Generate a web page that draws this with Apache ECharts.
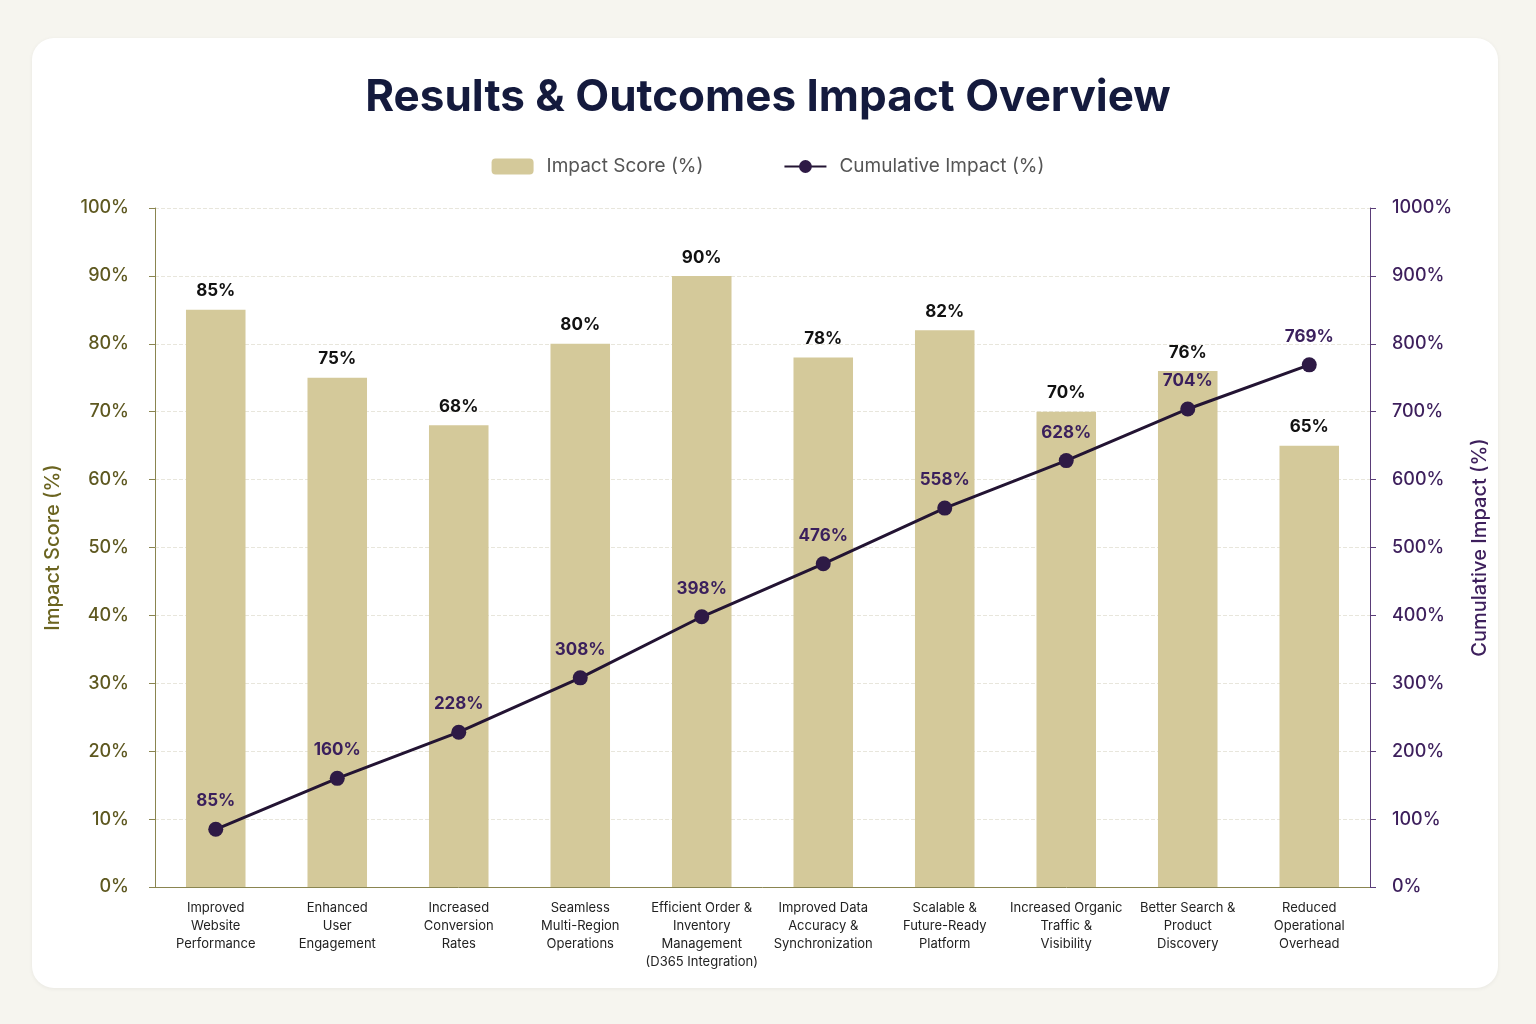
<!DOCTYPE html>
<html><head><meta charset="utf-8">
<script src="https://cdn.jsdelivr.net/npm/echarts@6/dist/echarts.min.js"></script>
<style>
html,body{margin:0;padding:0;background:#f6f5ef;}
#card{position:absolute;left:32px;top:38px;width:1466px;height:950px;background:#fff;border-radius:22px;box-shadow:0 1px 4px rgba(0,0,0,0.06);}
#main{position:absolute;left:0;top:0;width:1536px;height:1024px;}
</style></head>
<body><div id="card"></div><div id="main"></div>
<script>
var categories = ['Improved\nWebsite\nPerformance','Enhanced\nUser\nEngagement','Increased\nConversion\nRates','Seamless\nMulti-Region\nOperations','Efficient Order &\nInventory\nManagement\n(D365 Integration)','Improved Data\nAccuracy &\nSynchronization','Scalable &\nFuture-Ready\nPlatform','Increased Organic\nTraffic &\nVisibility','Better Search &\nProduct\nDiscovery','Reduced\nOperational\nOverhead'];
var impactScore = [85, 75, 68, 80, 90, 78, 82, 70, 76, 65];
var cumulativeImpact = [85, 160, 228, 308, 398, 476, 558, 628, 704, 769];

var myChart = echarts.init(document.getElementById('main'));
var font = 'Inter, "Noto Sans", sans-serif';
var option = {
    textStyle: {fontFamily: font},
    title: {
        text: 'Results & Outcomes Impact Overview',
        left: 'center', top: 71,
        textStyle: {fontSize: 44, fontWeight: 'bold', color: '#141a3d', fontFamily: font}
    },
    legend: {
        top: 152, left: 'center', itemGap: 80, itemWidth: 42, itemHeight: 16,
        textStyle: {fontSize: 19, color: '#555', fontFamily: font, padding: [0, 0, 0, 8]},
        data: ['Impact Score (%)', 'Cumulative Impact (%)']
    },
    grid: {left: 155, right: 166, top: 208, bottom: 137},
    xAxis: {
        type: 'category', data: categories,
        axisLine: {lineStyle: {color: '#8a8550'}},
        axisTick: {show: false},
        axisLabel: {color: '#222', fontSize: 13, lineHeight: 18, interval: 0, margin: 12}
    },
    yAxis: [{
        type: 'value', min: 0, max: 100, interval: 10,
        name: 'Impact Score (%)', nameLocation: 'middle', nameGap: 92,
        nameTextStyle: {color: '#6b6420', fontSize: 20, fontWeight: 500},
        axisLine: {show: true, lineStyle: {color: '#8a8550'}},
        axisTick: {show: true, length: 6, lineStyle: {color: '#8a8550'}},
        axisLabel: {formatter: '{value}%', color: '#5e5820', fontSize: 18, fontWeight: 500, margin: 26},
        splitLine: {lineStyle: {color: '#e8e6dc', type: 'dashed'}}
    }, {
        type: 'value', min: 0, max: 1000, interval: 100,
        name: 'Cumulative Impact (%)', nameLocation: 'middle', nameGap: 100,
        nameTextStyle: {color: '#3d1f5c', fontSize: 20, fontWeight: 500},
        axisLine: {show: true, lineStyle: {color: '#5a3d78'}},
        axisTick: {show: true, length: 6, lineStyle: {color: '#5a3d78'}},
        axisLabel: {formatter: function (v) { return v + '%'; }, color: '#3d1f5c', fontSize: 18, fontWeight: 500, margin: 22},
        splitLine: {show: false}
    }],
    series: [{
        name: 'Impact Score (%)', type: 'bar', data: impactScore, barWidth: '49%',
        itemStyle: {color: '#d4c99a'},
        label: {show: true, position: 'top', formatter: '{c}%', color: '#111', fontSize: 17, fontWeight: 'bold', distance: 10}
    }, {
        name: 'Cumulative Impact (%)', type: 'line', yAxisIndex: 1, data: cumulativeImpact,
        symbol: 'circle', symbolSize: 15,
        lineStyle: {color: '#231433', width: 3},
        itemStyle: {color: '#2e1a45'},
        label: {show: true, position: 'top', formatter: '{c}%', color: '#3a1f5c', fontSize: 17, fontWeight: 'bold', distance: 12}
    }]
};
myChart.setOption(option);
</script></body></html>
